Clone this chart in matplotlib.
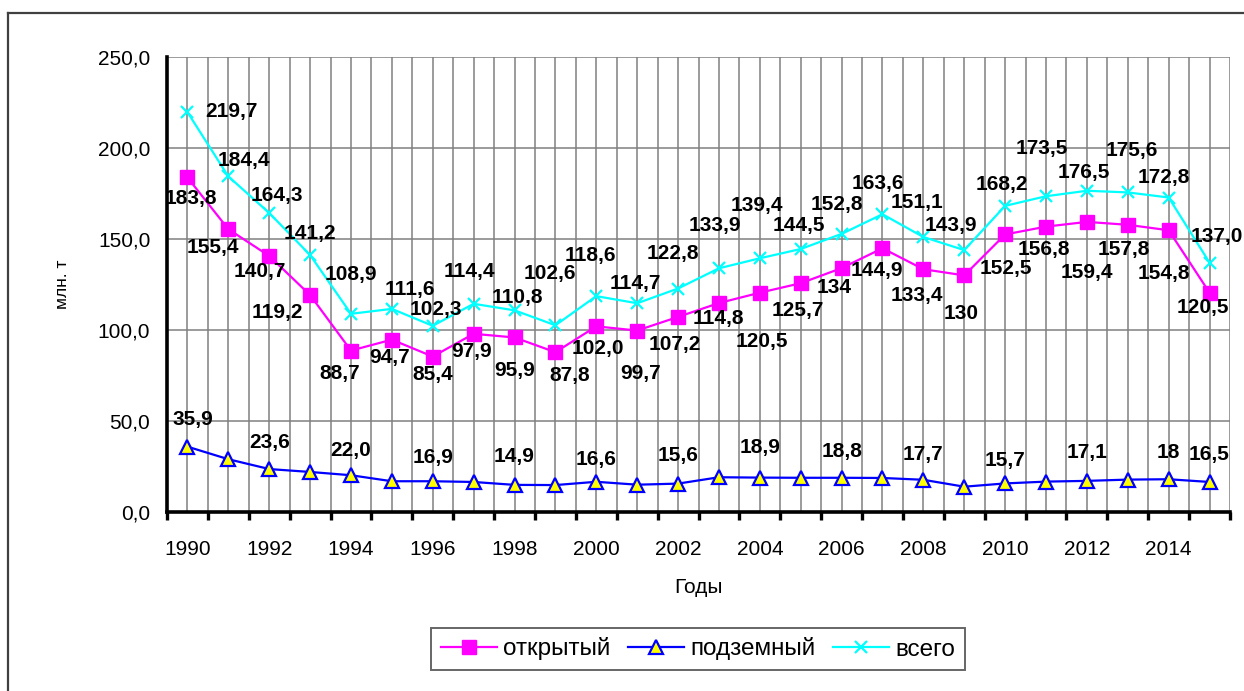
import matplotlib
matplotlib.use("Agg")
import matplotlib.pyplot as plt
from matplotlib.lines import Line2D
import matplotlib.ticker as mticker

plt.rcParams['font.family'] = ['Liberation Sans', 'DejaVu Sans']

# ---------------- data ----------------
years = list(range(1990, 2016))
open_pit = [183.8, 155.4, 140.7, 119.2, 88.7, 94.7, 85.4, 97.9, 95.9, 87.8,
            102.0, 99.7, 107.2, 114.8, 120.5, 125.7, 134, 144.9, 133.4, 130,
            152.5, 156.8, 159.4, 157.8, 154.8, 120.5]
total = [219.7, 184.4, 164.3, 141.2, 108.9, 111.6, 102.3, 114.4, 110.8, 102.6,
         118.6, 114.7, 122.8, 133.9, 139.4, 144.5, 152.8, 163.6, 151.1, 143.9,
         168.2, 173.5, 176.5, 175.6, 172.8, 137.0]
underground = [35.9, 29.0, 23.6, 22.0, 20.2, 16.9, 16.9, 16.5, 14.9, 14.8,
               16.6, 15.0, 15.6, 19.1, 18.9, 18.8, 18.8, 18.7, 17.7, 13.9,
               15.7, 16.7, 17.1, 17.8, 18, 16.5]
under_label_years = [1990, 1992, 1994, 1996, 1998, 2000, 2002, 2004, 2006,
                     2008, 2010, 2012, 2014, 2015]
under_label_values = [35.9, 23.6, 22.0, 16.9, 14.9, 16.6, 15.6, 18.9, 18.8,
                      17.7, 15.7, 17.1, 18, 16.5]
series_names = ['открытый', 'подземный', 'всего']
y_ticks = [0, 50, 100, 150, 200, 250]

# label offsets in pixels (dx right, dy down) – layout only
total_off = [(44, -1), (16, -16), (8, -17), (0, -22), (0, -39), (18, -19), (3, -16),
             (-4, -32), (3, -13), (-6, -52), (-6, -41), (-2, -20), (-5, -35),
             (-4, -43), (-3, -53), (-2, -24), (-5, -29), (-5, -31), (-6, -34),
             (-13, -25), (-3, -21), (-4, -48), (-3, -18), (4, -42), (-5, -20), (7, -26)]
open_off = [(3, 21), (-15, 18), (-9, 16), (-33, 17), (-11, 23), (-2, 18), (0, 18),
            (-2, 18), (0, 33), (14, 23), (2, 22), (3, 43), (-3, 28), (-1, 15),
            (2, 49), (-3, 27), (-7, 19), (-6, 22), (-6, 26), (-3, 38), (1, 34),
            (-2, 23), (0, 51), (-4, 25), (-5, 43), (-7, 15)]
under_off = [(5, -27), (0, -27), (0, -25), (0, -24), (0, -28), (0, -22), (0, -28),
             (0, -30), (0, -26), (0, -25), (0, -23), (0, -28), (0, -27), (0, -27)]


def fmt(v):
    if isinstance(v, int):
        return str(v)
    return f"{v:.1f}".replace('.', ',')


W, H = 1244, 691
fig = plt.figure(figsize=(W / 100, H / 100), dpi=100)
fig.patch.set_facecolor('white')

# outer chart frame (left & top visible)
fig.add_artist(Line2D([8 / W, 8 / W], [1 - 13 / H, -0.01], transform=fig.transFigure,
                      color='#404040', lw=1.6))
fig.add_artist(Line2D([8 / W, 1.01], [1 - 13 / H, 1 - 13 / H], transform=fig.transFigure,
                      color='#404040', lw=1.6))

ax = fig.add_axes([167 / W, 1 - 512 / H, (1230 - 167) / W, (512 - 57) / H])
x = list(range(len(years)))

ax.set_xlim(-0.5, len(years) - 0.5)
ax.set_ylim(0, 250)

# grid: vertical lines at category boundaries and centres
ax.set_xticks([i - 0.5 for i in range(len(years) + 1)])
ax.set_xticks(x, minor=True)
ax.xaxis.set_major_formatter(mticker.NullFormatter())
ax.xaxis.set_minor_formatter(mticker.FixedFormatter(
    [str(y) if (y % 2 == 0) else '' for y in years]))
ax.set_yticks(y_ticks)
ax.set_yticklabels([f"{v:.1f}".replace('.', ',') for v in y_ticks])
ax.grid(True, which='major', color='#808080', lw=1.1)
ax.grid(True, which='minor', axis='x', color='#808080', lw=1.1)
ax.set_axisbelow(True)

ax.tick_params(axis='x', which='major', length=6, width=2.4, direction='out', color='black')
ax.tick_params(axis='x', which='minor', length=0, pad=20, labelsize=15)
ax.tick_params(axis='y', length=0, pad=12, labelsize=15)

for s in ['top', 'right']:
    ax.spines[s].set_visible(False)
for s in ['left', 'bottom']:
    ax.spines[s].set_linewidth(2.6)
    ax.spines[s].set_color('black')

l1, = ax.plot(x, open_pit, color='#FF00FF', lw=1.6, marker='s', ms=9.5,
              mfc='#FF00FF', mec='#FF00FF', label=series_names[0], zorder=4)
l2, = ax.plot(x, underground, color='#0000FF', lw=1.6, marker='^', ms=9.5,
              mfc='#FFFF00', mec='#0000FF', mew=1.6, label=series_names[1], zorder=4)
l3, = ax.plot(x, total, color='#00FFFF', lw=1.6, marker='x', ms=9, mew=1.6,
              label=series_names[2], zorder=4)

lab_kw = dict(textcoords='offset pixels', ha='center', va='center',
              fontsize=15, fontweight='bold', color='black', zorder=6)
for i, v in enumerate(total):
    dx, dy = total_off[i]
    ax.annotate(fmt(v), (x[i], v), xytext=(dx, -dy), **lab_kw)
for i, v in enumerate(open_pit):
    dx, dy = open_off[i]
    ax.annotate(fmt(v), (x[i], v), xytext=(dx, -dy), **lab_kw)
for j, (yr, lv) in enumerate(zip(under_label_years, under_label_values)):
    i = years.index(yr)
    dx, dy = under_off[j]
    ax.annotate(fmt(lv), (x[i], underground[i]), xytext=(dx, -dy), **lab_kw)

ax.set_ylabel('млн. т', fontsize=12.5)
ax.yaxis.set_label_coords((70 - 167) / 1063, 0.5)
ax.set_xlabel('Годы', fontsize=15, labelpad=14)

leg = fig.legend(handles=[l1, l2, l3], loc='center', bbox_to_anchor=(698 / W, 1 - 649 / H),
                 ncol=3, fontsize=17.5, frameon=True, fancybox=False, edgecolor='#404040',
                 handlelength=2.3, handletextpad=0.25, columnspacing=0.75, borderpad=0.4,
                 markerscale=1.0)
leg.get_frame().set_linewidth(1.4)

fig.savefig('out.png', dpi=100, facecolor='white')
